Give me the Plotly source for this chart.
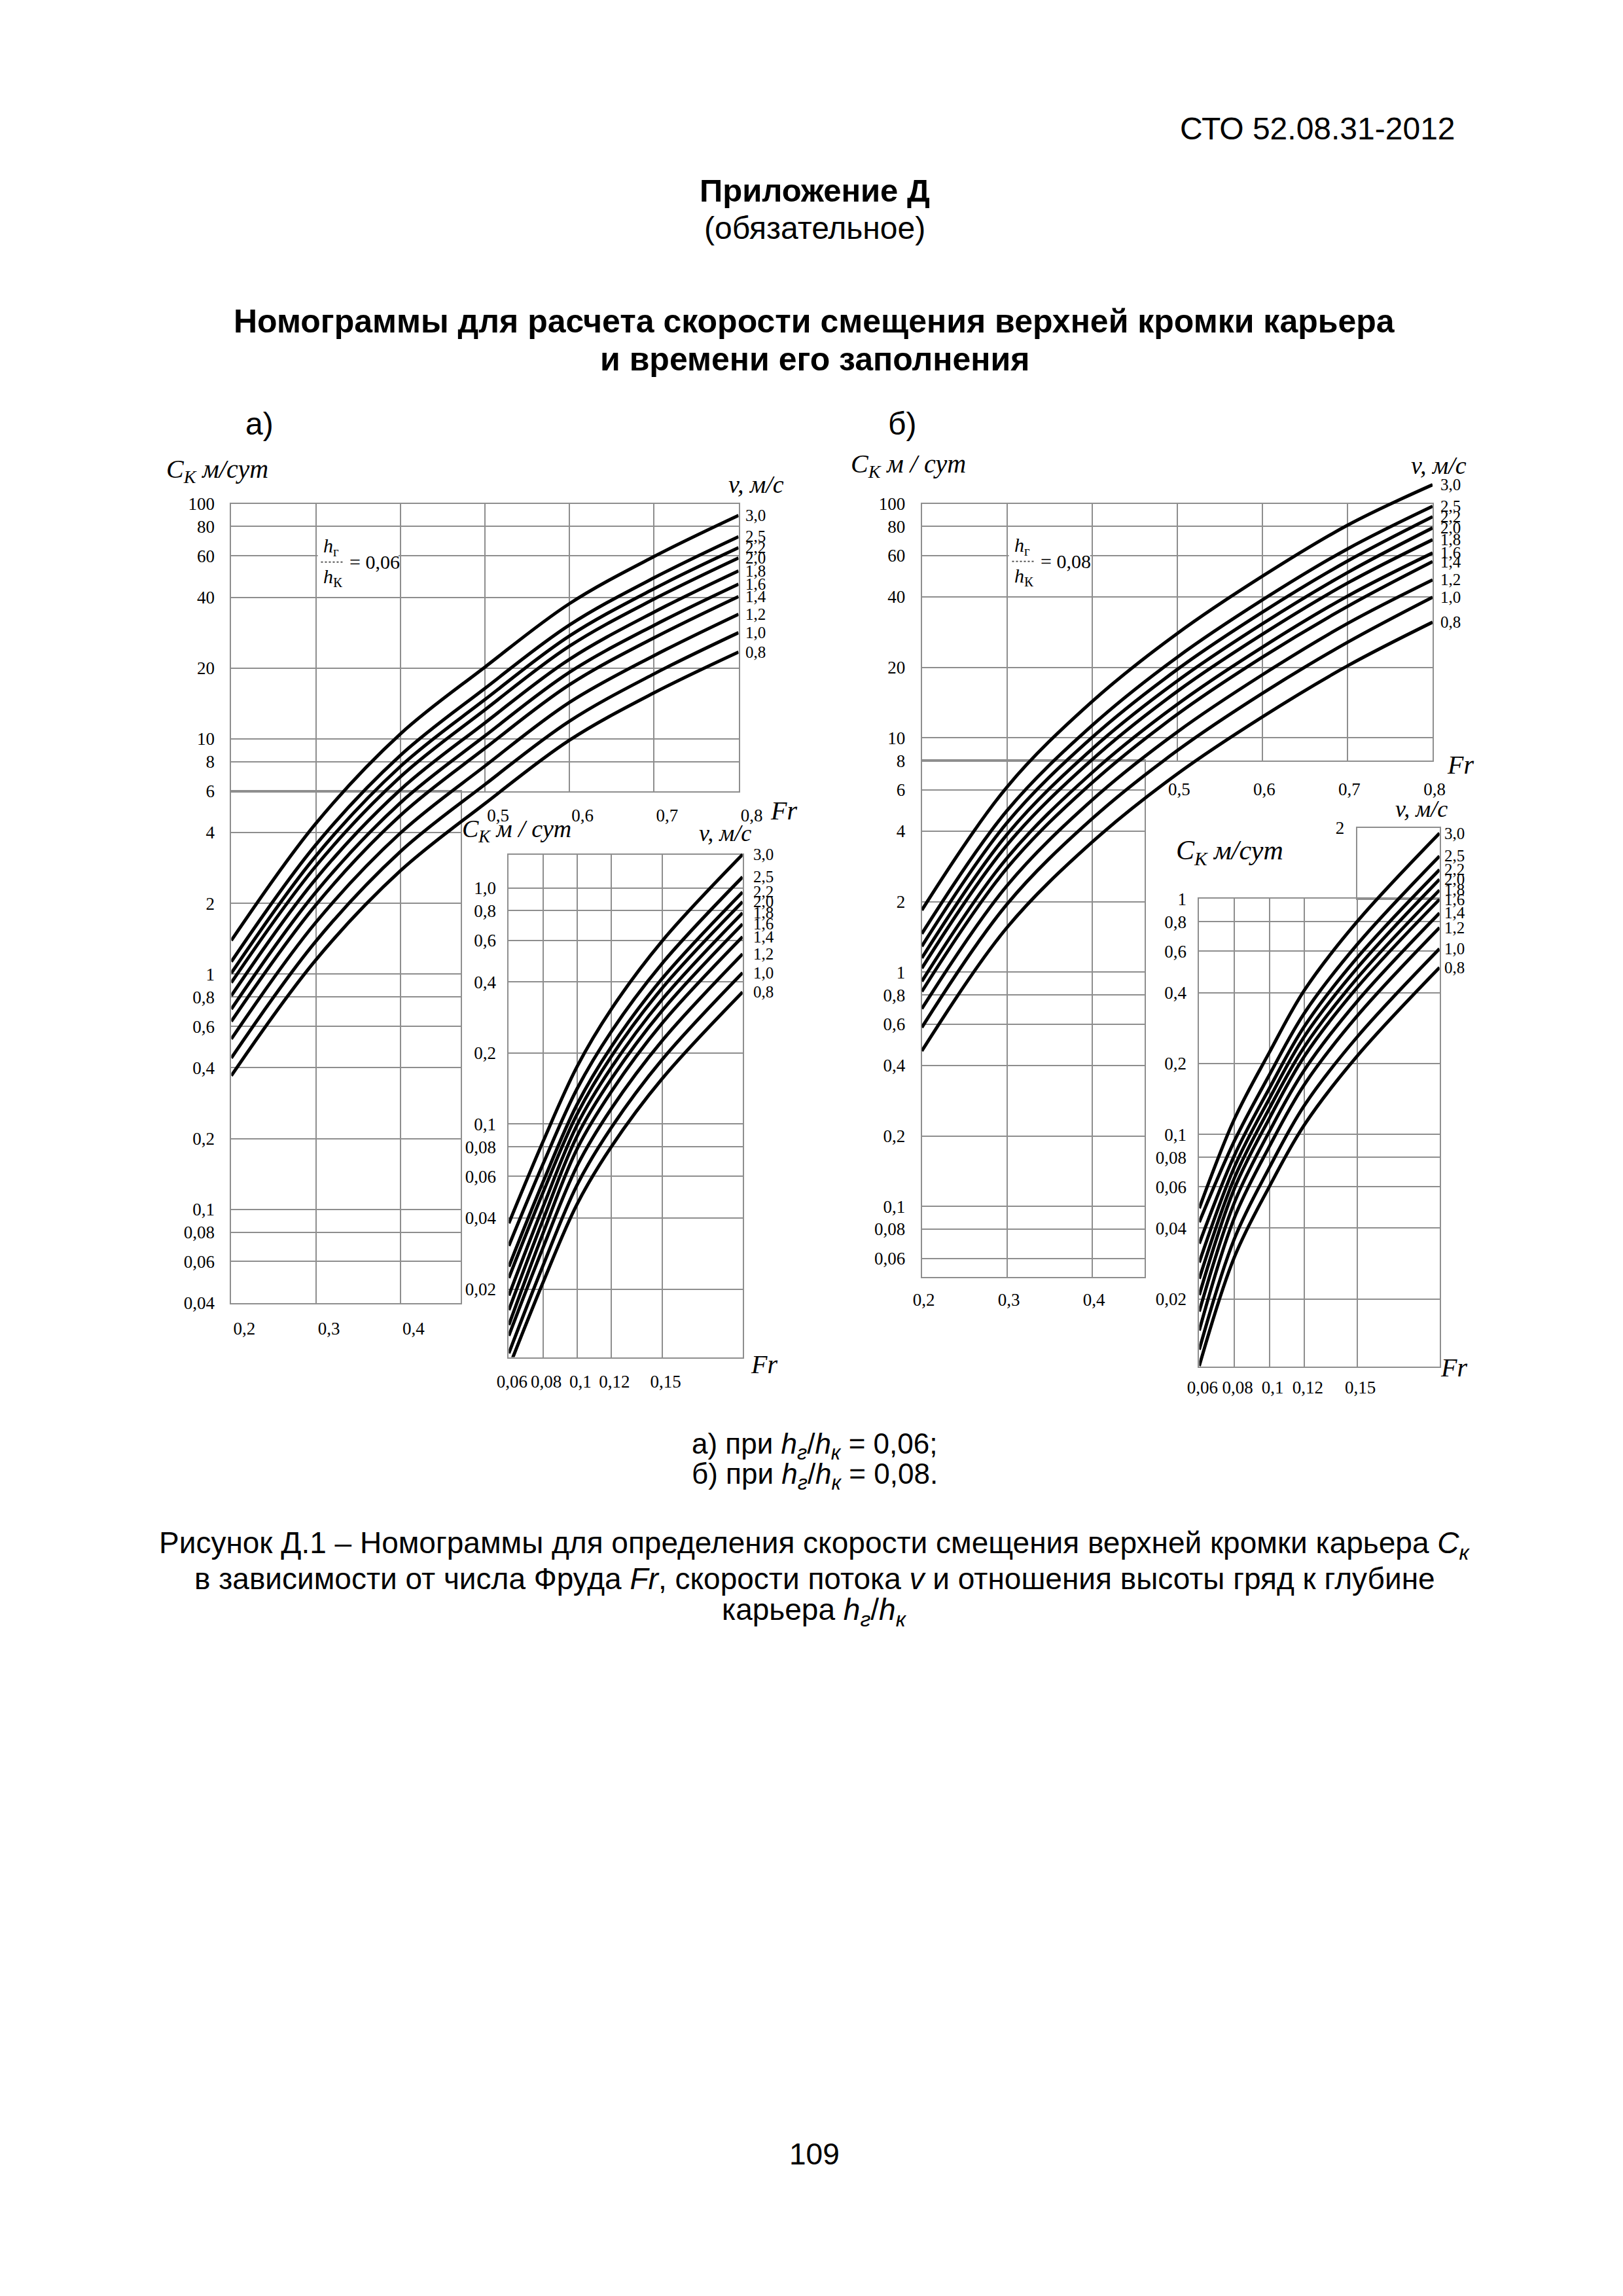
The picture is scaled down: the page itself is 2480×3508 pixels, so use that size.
import math
import plotly.graph_objects as go

W, H = 2480, 3508

# ---------------- data ----------------
v_labels = ["3,0", "2,5", "2,2", "2,0", "1,8", "1,6", "1,4", "1,2", "1,0", "0,8"]

fr_main = [0.2, 0.3, 0.4, 0.5, 0.6, 0.7, 0.8]
fr_inset = [0.06, 0.08, 0.10, 0.12, 0.15, 0.197]

# a) h_r/h_k = 0,06 : main chart, C_k (m/day)
ck_a_main = [
    [1.39, 4.37, 10.5, 20.2, 37.6, 59.6, 89.1],
    [1.13, 3.55, 8.51, 16.4, 30.5, 48.4, 72.4],
    [1.01, 3.18, 7.64, 14.7, 27.4, 43.5, 65.0],
    [0.92, 2.88, 6.90, 13.3, 24.8, 39.3, 58.8],
    [0.81, 2.54, 6.08, 11.7, 21.8, 34.6, 51.8],
    [0.71, 2.23, 5.35, 10.3, 19.2, 30.4, 45.5],
    [0.63, 1.97, 4.73, 9.12, 17.0, 26.9, 40.3],
    [0.53, 1.66, 3.98, 7.67, 14.3, 22.6, 33.9],
    [0.44, 1.38, 3.32, 6.40, 11.9, 18.9, 28.3],
    [0.37, 1.15, 2.75, 5.31, 9.88, 15.7, 23.4],
]
# a) inset
ck_a_inset = [
    [0.0380, 0.0841, 0.175, 0.306, 0.597, 1.384],
    [0.0305, 0.0676, 0.141, 0.246, 0.480, 1.112],
    [0.0249, 0.0567, 0.121, 0.212, 0.414, 0.960],
    [0.0223, 0.0512, 0.110, 0.193, 0.377, 0.873],
    [0.0188, 0.0445, 0.0991, 0.173, 0.338, 0.784],
    [0.0163, 0.0392, 0.0889, 0.155, 0.303, 0.703],
    [0.0141, 0.0344, 0.0785, 0.137, 0.268, 0.621],
    [0.0127, 0.0299, 0.0664, 0.116, 0.226, 0.525],
    [0.0107, 0.0251, 0.0552, 0.0964, 0.188, 0.437],
    [0.0093, 0.0213, 0.0458, 0.0800, 0.156, 0.362],
]
# b) h_r/h_k = 0,08 : main chart
ck_b_main = [
    [1.84, 6.17, 14.3, 27.9, 49.0, 80.9, 120.5],
    [1.46, 4.89, 11.3, 22.1, 38.8, 64.1, 97.5],
    [1.29, 4.34, 10.05, 19.6, 34.4, 56.9, 88.0],
    [1.15, 3.87, 8.97, 17.5, 30.7, 50.8, 78.8],
    [1.04, 3.49, 8.08, 15.8, 27.7, 45.8, 70.2],
    [0.914, 3.07, 7.11, 13.9, 24.4, 40.3, 61.6],
    [0.827, 2.78, 6.44, 12.6, 22.1, 36.4, 56.6],
    [0.698, 2.34, 5.43, 10.6, 18.6, 30.8, 47.3],
    [0.581, 1.95, 4.52, 8.83, 15.5, 25.6, 39.9],
    [0.461, 1.55, 3.59, 7.02, 12.3, 20.3, 31.2],
]
# b) inset
ck_b_inset = [
    [0.0486, 0.116, 0.223, 0.410, 0.800, 1.90],
    [0.0424, 0.0937, 0.179, 0.328, 0.640, 1.52],
    [0.0344, 0.0813, 0.157, 0.288, 0.562, 1.33],
    [0.0286, 0.0726, 0.142, 0.261, 0.508, 1.21],
    [0.0244, 0.0652, 0.129, 0.236, 0.460, 1.09],
    [0.0208, 0.0588, 0.117, 0.215, 0.420, 0.995],
    [0.0177, 0.0513, 0.103, 0.188, 0.367, 0.871],
    [0.0147, 0.0442, 0.0889, 0.163, 0.318, 0.755],
    [0.0122, 0.0360, 0.0723, 0.133, 0.259, 0.614],
    [0.0104, 0.0301, 0.0601, 0.110, 0.215, 0.511],
]

# tick values
a_up_yticks = [6, 8, 10, 20, 40, 60, 80, 100]
a_lo_yticks = [0.04, 0.06, 0.08, 0.1, 0.2, 0.4, 0.6, 0.8, 1, 2, 4]
b_up_yticks = [8, 10, 20, 40, 60, 80, 100]
b_lo_yticks = [0.06, 0.08, 0.1, 0.2, 0.4, 0.6, 0.8, 1, 2, 4, 6]
up_xticks = [0.5, 0.6, 0.7, 0.8]
up_xgrid = [0.3, 0.4]
lo_xticks = [0.2, 0.3, 0.4]
inset_yticks = [0.02, 0.04, 0.06, 0.08, 0.1, 0.2, 0.4, 0.6, 0.8, 1.0]
a_inset_ytext = ["0,02", "0,04", "0,06", "0,08", "0,1", "0,2", "0,4", "0,6", "0,8", "1,0"]
b_inset_ytext = ["0,02", "0,04", "0,06", "0,08", "0,1", "0,2", "0,4", "0,6", "0,8", "1"]
inset_xticks = [0.06, 0.08, 0.10, 0.12, 0.15]


def fmt(v):
    return ("%g" % v).replace(".", ",")


# ---------------- geometry (page pixels) ----------------
def px(x):
    return x / W


def py(y):
    return 1 - y / H


def dom_x(x0, x1):
    return [px(x0), px(x1)]


def dom_y(y0, y1):
    return [py(y1), py(y0)]


L = math.log10
# main a
A_X0, A_K, A_Y100, A_D = 334.0, 793.0 / 0.6, 753.0, 362.5
a_x = lambda f: A_X0 + (f - 0.2) * A_K
a_y = lambda c: A_Y100 + (2 - L(c)) * A_D
A_LO_R = 0.471
# main b
B_X0, B_K, B_Y100, B_D = 1413.5, (2212.0 - 1413.5) / 0.6, 753.0, 361.0
b_x = lambda f: B_X0 + (f - 0.2) * B_K
b_y = lambda c: B_Y100 + (2 - L(c)) * B_D
B_LO_R = 0.462
B_TOP = 130.0
# inset a
AI_X0, AI_K, AI_Y1, AI_D = 767.8, 2668.0, 1345.0, 364.0
ai_x = lambda f: AI_X0 + (f - 0.06) * AI_K
ai_y = lambda lc: AI_Y1 - lc * AI_D
# inset b
BI_X0, BI_K, BI_Y1, BI_D = 1847.2, 2742.0, 1362.0, 363.0
bi_x = lambda f: BI_X0 + (f - 0.06) * BI_K
bi_y = lambda lc: BI_Y1 - lc * BI_D
IN_BOT = -1.987
IN_R = 0.197
AI_TOP = 0.141

GRID = "#8e8e8e"
TICKFONT = dict(family="Liberation Serif", size=27, color="black")
SERIF = "Liberation Serif"
SANS = "Liberation Sans"


def gax(domain, rng, anchor, tickvals=None, ticktext=None, log=False, grid=True,
        labels=True, standoff=None, shift=None, minor=None):
    d = dict(domain=domain, range=rng, anchor=anchor, showgrid=grid, gridcolor=GRID,
             gridwidth=2, showline=True, linecolor=GRID, linewidth=2, mirror=True,
             ticks="", zeroline=False, tickfont=TICKFONT, tickangle=0, fixedrange=True,
             showticklabels=labels)
    if tickvals is not None:
        d.update(tickmode="array", tickvals=tickvals, ticktext=ticktext)
    if log:
        d["type"] = "log"
    if standoff is not None:
        d["ticklabelstandoff"] = standoff
    if shift:
        d["ticklabelshift"] = shift
    if minor is not None:
        d["minor"] = dict(tickmode="array", tickvals=minor, showgrid=True, gridcolor=GRID,
                          gridwidth=2, ticks="")
    return d


def hax(domain, rng, anchor, log=False):
    d = dict(domain=domain, range=rng, anchor=anchor, visible=False, fixedrange=True)
    if log:
        d["type"] = "log"
    return d


layout = dict(width=W, height=H, margin=dict(l=0, r=0, t=0, b=0), autosize=False,
              paper_bgcolor="white", plot_bgcolor="rgba(0,0,0,0)", showlegend=False)

# 1: a upper grid
layout["xaxis"] = gax(dom_x(a_x(0.2), a_x(0.8)), [0.2, 0.8], "y", up_xticks,
                      [fmt(v) for v in up_xticks], standoff=12, shift=20, minor=up_xgrid)
layout["yaxis"] = gax(dom_y(a_y(100), a_y(6)), [L(6), 2], "x", a_up_yticks,
                      [fmt(v) for v in a_up_yticks], log=True, standoff=18)
# 2: a lower grid
layout["xaxis2"] = gax(dom_x(a_x(0.2), a_x(A_LO_R)), [0.2, A_LO_R], "y2", lo_xticks,
                       [fmt(v) for v in lo_xticks], standoff=14, shift=20)
layout["yaxis2"] = gax(dom_y(a_y(6), a_y(0.04)), [L(0.04), L(6)], "x2", a_lo_yticks,
                       [fmt(v) for v in a_lo_yticks], log=True, standoff=18)
# 3: a curves
layout["xaxis3"] = hax(dom_x(a_x(0.2), a_x(0.8)), [0.2, 0.8], "y3")
layout["yaxis3"] = hax(dom_y(a_y(100), a_y(0.04)), [L(0.04), 2], "x3", log=True)
# 4: b upper grid
layout["xaxis4"] = gax(dom_x(b_x(0.2), b_x(0.8)), [0.2, 0.8], "y4", up_xticks,
                       [fmt(v) for v in up_xticks], standoff=18, shift=3, minor=up_xgrid)
layout["yaxis4"] = gax(dom_y(b_y(100), b_y(8)), [L(8), 2], "x4", b_up_yticks,
                       [fmt(v) for v in b_up_yticks], log=True, standoff=18)
# 5: b lower grid
layout["xaxis5"] = gax(dom_x(b_x(0.2), b_x(B_LO_R)), [0.2, B_LO_R], "y5", lo_xticks,
                       [fmt(v) for v in lo_xticks], standoff=10, shift=3)
layout["yaxis5"] = gax(dom_y(b_y(8), b_y(0.05)), [L(0.05), L(8)], "x5", b_lo_yticks,
                       [fmt(v) for v in b_lo_yticks], log=True, standoff=18)
# 6: b curves (reach slightly above the 100 line)
layout["xaxis6"] = hax(dom_x(b_x(0.2), b_x(0.8)), [0.2, 0.8], "y6")
layout["yaxis6"] = hax(dom_y(b_y(B_TOP), b_y(0.05)), [L(0.05), L(B_TOP)], "x6", log=True)
# 7: a inset grid
layout["xaxis7"] = gax(dom_x(ai_x(0.06), ai_x(IN_R)), [0.06, IN_R], "y7", inset_xticks,
                       [fmt(v) for v in inset_xticks], standoff=12, shift=5)
layout["yaxis7"] = gax(dom_y(ai_y(AI_TOP), ai_y(IN_BOT)), [IN_BOT, AI_TOP], "x7",
                       inset_yticks, a_inset_ytext, log=True, standoff=12)
# 8: b inset grid
layout["xaxis8"] = gax(dom_x(bi_x(0.06), bi_x(IN_R)), [0.06, IN_R], "y8", inset_xticks,
                       [fmt(v) for v in inset_xticks], standoff=6, shift=5)
layout["yaxis8"] = gax(dom_y(bi_y(0), bi_y(IN_BOT)), [IN_BOT, 0], "x8", inset_yticks,
                       b_inset_ytext, log=True, standoff=12)
# 9: b inset upper extension box (1..2)
layout["xaxis9"] = gax(dom_x(bi_x(0.15), bi_x(IN_R)), [0.15, IN_R], "y9", grid=False,
                       labels=False)
layout["yaxis9"] = gax(dom_y(bi_y(L(2)), bi_y(0)), [0, L(2)], "x9", [2], ["2"], log=True,
                       grid=False, standoff=12)
# 10: b inset curves
layout["xaxis10"] = hax(dom_x(bi_x(0.06), bi_x(IN_R)), [0.06, IN_R], "y10")
layout["yaxis10"] = hax(dom_y(bi_y(L(2)), bi_y(IN_BOT)), [IN_BOT, L(2)], "x10", log=True)
# 11: a inset curves
layout["xaxis11"] = hax(dom_x(ai_x(0.06), ai_x(IN_R)), [0.06, IN_R], "y11")
layout["yaxis11"] = hax(dom_y(ai_y(0.2), ai_y(IN_BOT)), [IN_BOT, 0.2], "x11", log=True)

fig = go.Figure(layout=layout)

# empty traces so that the grid-only subplots are drawn
for n in ["", "2", "4", "5", "7", "8", "9"]:
    fig.add_trace(go.Scatter(x=[None], y=[None], mode="lines", xaxis="x" + n,
                             yaxis="y" + n, hoverinfo="skip"))

LINE = dict(color="black", width=5, shape="spline", smoothing=1.0)
annotations = []
LABFONT = dict(family=SERIF, size=25, color="black")


def add_family(xs, table, xa, ya, xshift):
    for lab, row in zip(v_labels, table):
        fig.add_trace(go.Scatter(x=xs, y=row, mode="lines", line=LINE, xaxis=xa, yaxis=ya,
                                 hoverinfo="skip"))
        annotations.append(dict(x=xs[-1], y=L(row[-1]), xref=xa, yref=ya, text=lab,
                                showarrow=False, xanchor="left", yanchor="middle",
                                xshift=xshift, font=LABFONT))


add_family(fr_main, ck_a_main, "x3", "y3", 8)
add_family(fr_main, ck_b_main, "x6", "y6", 10)
add_family(fr_inset, ck_a_inset, "x11", "y11", 14)
add_family(fr_inset, ck_b_inset, "x10", "y10", 5)


def txt(x, y, text, size=48, family=SANS, xanchor="center"):
    annotations.append(dict(x=px(x), y=py(y), xref="paper", yref="paper", text=text,
                            showarrow=False, xanchor=xanchor, yanchor="middle",
                            font=dict(family=family, size=size, color="black")))


CK_MAIN = "<i>C</i><sub><i>К</i></sub><i> м/сут</i>"
CK_INSET = "<i>C</i><sub><i>К</i></sub><i> м / сут</i>"
VMS = "<i>v, м/с</i>"
FR = "<i>Fr</i>"

# axis titles of chart a
txt(312, 702, CK_MAIN, 40, SERIF)
txt(1155, 723, VMS, 38, SERIF)
txt(1198, 1226, FR, 40, SERIF)
txt(780, 1257, CK_INSET, 38, SERIF)
txt(1106, 1261, VMS, 36, SERIF)
txt(1167, 2079, FR, 40, SERIF)
# axis titles of chart b
txt(1392, 694, CK_INSET, 40, SERIF)
txt(2222, 694, VMS, 38, SERIF)
txt(2255, 1155, FR, 40, SERIF)
txt(1895, 1290, CK_MAIN, 42, SERIF)
txt(2195, 1223, VMS, 36, SERIF)
txt(2245, 2084, FR, 40, SERIF)

# ratio labels inside main charts
shapes = []
for (x0, x1, ycen, val) in [(a_x(0.3), a_x(0.4), 843, "= 0,06"),
                            (b_x(0.3), b_x(0.4), 842, "= 0,08")]:
    shapes.append(dict(type="rect", xref="paper", yref="paper", x0=px(x0 + 3), x1=px(x1 - 3),
                       y0=py(ycen + 46), y1=py(ycen - 44), fillcolor="white",
                       line=dict(width=0), layer="above"))
    shapes.append(dict(type="line", xref="paper", yref="paper", x0=px(x0 + 8), x1=px(x0 + 42),
                       y0=py(ycen), y1=py(ycen), line=dict(color="#555", width=2, dash="dot"),
                       layer="above"))
    txt(x0 + 10, ycen - 23, "<i>h</i><sub>г</sub>", 30, SERIF, xanchor="left")
    txt(x0 + 10, ycen + 24, "<i>h</i><sub>К</sub>", 30, SERIF, xanchor="left")
    txt(x0 + 50, ycen, val, 30, SERIF, xanchor="left")

# page texts
CX = 1246
txt(2250, 175, "СТО 52.08.31-2012", 48, xanchor="right")
txt(CX, 270, "<b>Приложение Д</b>", 49)
txt(CX, 328, "(обязательное)", 48)
txt(CX, 472, "<b>Номограммы для расчета скорости смещения верхней кромки карьера</b>", 50)
txt(CX, 531, "<b>и времени его заполнения</b>", 50)
txt(378, 630, "а)", 48)
txt(1383, 630, "б)", 48)
txt(CX, 2205, "а) при <i>h</i><sub><i>г</i></sub>/<i>h</i><sub><i>к</i></sub> = 0,06;", 44)
txt(CX, 2251, "б) при <i>h</i><sub><i>г</i></sub>/<i>h</i><sub><i>к</i></sub> = 0,08.", 44)
txt(CX, 2358, "Рисунок Д.1 – Номограммы для определения скорости смещения верхней кромки "
              "карьера <i>C</i><sub><i>к</i></sub>", 46)
txt(CX, 2410, "в зависимости от числа Фруда <i>Fr</i>, скорости потока <i>v</i> и отношения "
              "высоты гряд к глубине", 46)
txt(CX, 2461, "карьера <i>h</i><sub><i>г</i></sub>/<i>h</i><sub><i>к</i></sub>", 46)
txt(CX, 3296, "109", 46)

fig.update_layout(annotations=annotations, shapes=shapes)
fig.write_html("out.html")
